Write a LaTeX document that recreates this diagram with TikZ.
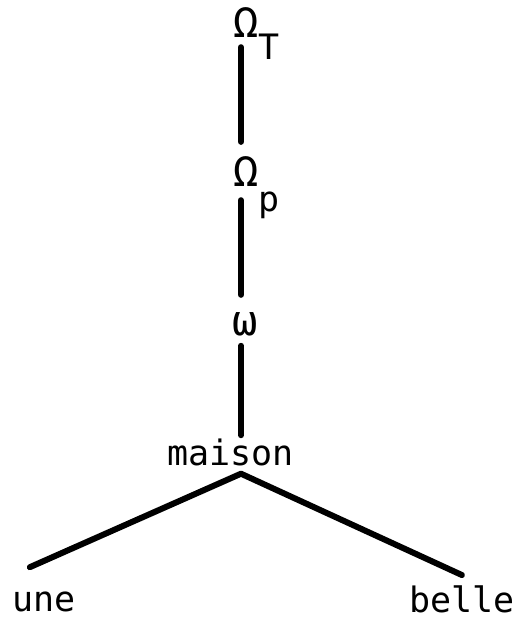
\documentclass[tikz,border=0pt]{standalone}
\usepackage{fontspec}
\setmonofont{DejaVu Sans Mono}
\tikzset{wbox/.style={
    inner sep=0pt,
    anchor=base west,
    font=\ttfamily\fontsize{35}{40}\selectfont
  },
  branch/.style={line width=6pt,line cap=round,line join=round},
}
\newcommand{\lowsub}[2]{\smash{\raisebox{-#1}{#2}}}
\newcommand{\greekbig}[1]{{\fontsize{42}{48}\selectfont #1}}
\begin{document}
\begin{tikzpicture}[x=1pt,y=-1pt]
  \useasboundingbox (0,0) rectangle (519,617);
  \coordinate (spine) at (241,0);
  \node[wbox] (omT) at (233,38) {\greekbig{Ω}\lowsub{22pt}{T}};
  \node[wbox] (omP) at (233,187) {\greekbig{Ω}\lowsub{25pt}{p}};
  \node[wbox] (om) at (232,335) {\greekbig{ω}};
  \node[wbox] (maison) at (167,465) {maison};
  \node[wbox] (une) at (12,611) {une};
  \node[wbox] (belle) at (409,612) {belle};
  \coordinate (apex) at ([yshift=-8pt]maison.south -| spine);
  \draw[branch,shorten <=9pt,shorten >=15pt] (omT.south -| spine) -- (omP.north -| spine);
  \draw[branch,shorten <=13pt,shorten >=17pt] (omP.south -| spine) -- (om.north -| spine);
  \draw[branch,shorten <=10pt,shorten >=3pt] (om.south -| spine) -- (maison.north -| spine);
  \draw[branch] ([shift={(-14,-24)}]une.north) -- (apex) -- ([shift={(0,-10)}]belle.north);
\end{tikzpicture}
\end{document}
